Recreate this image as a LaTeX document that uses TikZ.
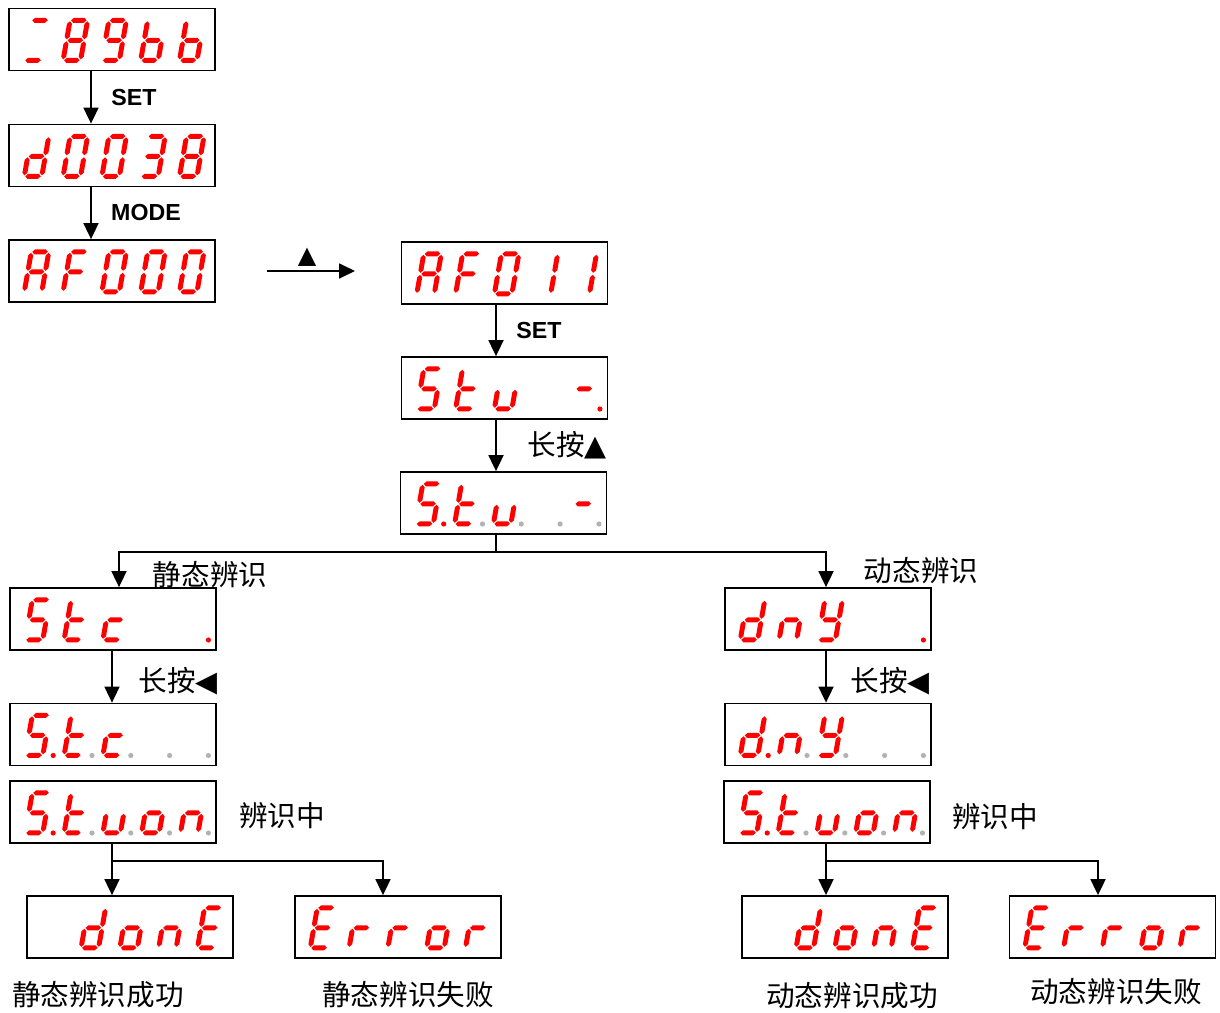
\documentclass[tikz,border=0pt]{standalone}
\usepackage{fontspec}
\setmainfont{Liberation Sans}
\newfontfamily\cjk{Noto Sans CJK SC}
\newfontfamily\symf{DejaVu Sans}
\definecolor{SegRed}{RGB}{255,0,0}
\definecolor{DotGray}{RGB}{178,178,178}
\usetikzlibrary{arrows.meta}

% one segment of a digit, local units
\newcommand{\hseg}[1]{\fill[segon] (1,#1)--(3.5,#1-2.5)--(14,#1-2.5)--(16.5,#1)--(14,#1+2.5)--(3.5,#1+2.5)--cycle;}
\newcommand{\vseg}[2]{\fill[segon] (#1,#2+1)--(#1+2.5,#2+3.5)--(#1+2.5,#2+16.5)--(#1,#2+19)--(#1-2.5,#2+16.5)--(#1-2.5,#2+3.5)--cycle;}
\newcommand{\segA}{\hseg{0}}
\newcommand{\segB}{\vseg{17.5}{0}}
\newcommand{\segC}{\vseg{17.5}{20}}
\newcommand{\segD}{\hseg{40}}
\newcommand{\segE}{\vseg{0}{20}}
\newcommand{\segF}{\vseg{0}{0}}
\newcommand{\segG}{\hseg{20}}
\newcommand{\defchar}[2]{\expandafter\def\csname ch#1\endcsname{#2}}
\defchar{=}{\segA\segD}
\defchar{0}{\segA\segB\segC\segD\segE\segF}
\defchar{1}{\segB\segC}
\defchar{3}{\segA\segB\segC\segD\segG}
\defchar{8}{\segA\segB\segC\segD\segE\segF\segG}
\defchar{9}{\segA\segB\segC\segD\segF\segG}
\defchar{A}{\segA\segB\segC\segE\segF\segG}
\defchar{E}{\segA\segD\segE\segF\segG}
\defchar{F}{\segA\segE\segF\segG}
\defchar{S}{\segA\segC\segD\segF\segG}
\defchar{Y}{\segB\segC\segD\segF\segG}
\defchar{b}{\segC\segD\segE\segF\segG}
\defchar{c}{\segD\segE\segG}
\defchar{d}{\segB\segC\segD\segE\segG}
\defchar{n}{\segC\segE\segG}
\defchar{o}{\segC\segD\segE\segG}
\defchar{r}{\segE\segG}
\defchar{t}{\segD\segE\segF\segG}
\defchar{u}{\segC\segD\segE}
\defchar{-}{\segG}
\defchar{x}{}

% display panel: name, centre x, centre y, list of char/dot
\newcommand{\lcd}[4]{%
  \node[lcdbox] (#1) at (#2,#3) {};
  \foreach \ltr/\dt [count=\i from 0] in {#4} {
    \begin{scope}[shift={(#2-80.7+38.8*\i,#3-19.2)}, xslant=0.175]
      \csname ch\ltr\endcsname
    \end{scope}
    \path[dot\dt] (#2-59.8+38.8*\i,#3+21) circle[radius=1.3pt];
  }
}

\begin{document}
\begin{tikzpicture}[x=0.5pt, y=-0.5pt,
    lcdbox/.style={draw, line width=0.9pt, minimum width=103pt, minimum height=31pt, inner sep=0pt},
    segon/.style={fill=SegRed},
    dotr/.style={fill=SegRed},
    dotg/.style={fill=DotGray},
    dotn/.style={},
    conn/.style={line width=0.9pt},
    arr/.style={conn, -{Triangle[length=8pt,width=7.5pt]}},
    keytxt/.style={font=\bfseries\fontsize{11.6}{13}\selectfont, inner sep=0pt},
    cntxt/.style={font=\cjk\fontsize{14.3}{17}\selectfont, inner sep=0pt}
]
    \useasboundingbox (0,0) rectangle (1220,1012);

    % panels
    \lcd{b1}{112}{39.5}{=/n,8/n,9/n,b/n,b/n}
    \lcd{b2}{112}{155.5}{d/n,0/n,0/n,3/n,8/n}
    \lcd{b3}{112}{271}{A/n,F/n,0/n,0/n,0/n}
    \lcd{b4}{504.5}{273}{A/n,F/n,0/n,1/n,1/n}
    \lcd{b5}{504.5}{388}{S/n,t/n,u/n,x/n,-/r}
    \lcd{b6}{503.5}{503}{S/r,t/g,u/g,x/g,-/g}
    \lcd{b7}{113}{619}{S/n,t/n,c/n,x/n,x/r}
    \lcd{b8}{113}{734.5}{S/r,t/g,c/g,x/g,x/g}
    \lcd{b9}{113}{812}{S/r,t/g,u/g,o/g,n/g}
    \lcd{b10}{130}{927}{x/n,d/n,o/n,n/n,E/n}
    \lcd{b11}{398}{927}{E/n,r/n,r/n,o/n,r/n}
    \lcd{b12}{828}{619}{d/n,n/n,Y/n,x/n,x/r}
    \lcd{b13}{828}{734.5}{d/r,n/g,Y/g,x/g,x/g}
    \lcd{b14}{827}{812}{S/r,t/g,u/g,o/g,n/g}
    \lcd{b15}{845}{927}{x/n,d/n,o/n,n/n,E/n}
    \lcd{b16}{1112.5}{927}{E/n,r/n,r/n,o/n,r/n}

    % top chain
    \draw[arr] ([xshift=-10.5]b1.south) -- ([xshift=-10.5]b2.north);
    \draw[arr] ([xshift=-10.5]b2.south) -- ([xshift=-10.5]b3.north);
    \node[keytxt] (kset1) at (134,98) {SET};
    \node[keytxt] (kmode) at (146,213) {MODE};

    \coordinate (h1) at (267,271);
    \coordinate (h2) at (355,271);
    \draw[arr] (h1) -- (h2);
    \node[font=\symf\fontsize{12}{14}\selectfont, inner sep=0pt] (kup) at (307,257) {▲};

    \draw[arr] ([xshift=-4.25]b4.south) -- ([xshift=-4.25]b5.north);
    \node[keytxt] (kset2) at (539,331) {SET};
    \draw[arr] ([xshift=-4.25]b5.south) -- ([xshift=-4.25]b5.south |- b6.north);
    \node[cntxt] (klong1) at (567,445) {长按{\symf ▲}};

    % split to static / dynamic
    \coordinate (sp1) at (496,552);
    \draw[conn] (b6.south -| sp1) -- (sp1);
    \draw[arr] (sp1) -| ([xshift=3]b7.north);
    \draw[arr] (sp1) -| ([xshift=-1]b12.north);
    \node[cntxt] (lstat) at (210,575) {静态辨识};
    \node[cntxt] (ldyn) at (921,571) {动态辨识};

    \draw[arr] ([xshift=-0.5]b7.south) -- ([xshift=-0.5]b8.north);
    \node[cntxt] (klong2) at (178,681) {长按{\symf ◀}};
    \draw[arr] ([xshift=-1]b12.south) -- ([xshift=-1]b13.north);
    \node[cntxt] (klong3) at (890,681) {长按{\symf ◀}};

    \node[cntxt] (lrun1) at (282,816) {辨识中};
    \node[cntxt] (lrun2) at (995,817) {辨识中};

    % results
    \coordinate (sp2) at (112,861);
    \draw[conn] (b9.south -| sp2) -- (sp2);
    \draw[arr] (sp2) -| ([xshift=-9]b10.north);
    \draw[arr] (sp2) -| ([xshift=-7.5]b11.north);
    \coordinate (sp3) at (826,861);
    \draw[conn] (b14.south -| sp3) -- (sp3);
    \draw[arr] (sp3) -| ([xshift=-9.5]b15.north);
    \draw[arr] (sp3) -| ([xshift=-7.25]b16.north);

    \node[cntxt] (lok1) at (98,995) {静态辨识成功};
    \node[cntxt] (lfail1) at (408,995) {静态辨识失败};
    \node[cntxt] (lok2) at (852,996) {动态辨识成功};
    \node[cntxt] (lfail2) at (1116,992) {动态辨识失败};
\end{tikzpicture}
\end{document}
